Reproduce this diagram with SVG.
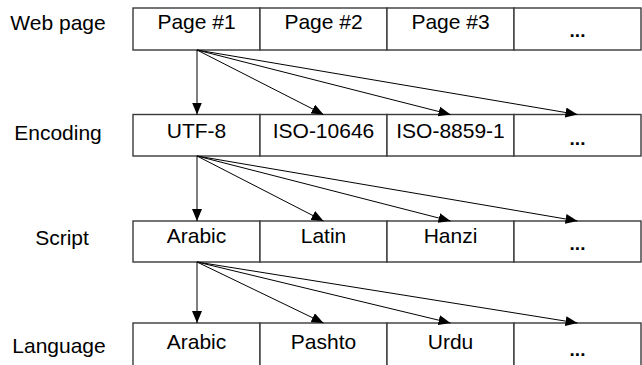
<svg xmlns="http://www.w3.org/2000/svg" width="642" height="365" viewBox="0 0 642 365">
<defs>
<style>
text{font-family:"Liberation Sans",Arial,sans-serif;font-size:21px;fill:#000;text-anchor:middle}
text.dots{font-weight:bold;font-size:19px}
.cell{fill:#fff;stroke:#3a3a3a;stroke-width:1.4}
.arr{stroke:#000;stroke-width:1;fill:none;marker-end:url(#ah)}
</style>
<marker id="ah" viewBox="0 0 12 10" refX="12" refY="5" markerWidth="12" markerHeight="10" markerUnits="userSpaceOnUse" orient="auto">
<path d="M0,0 L12,5 L0,10 Z" fill="#000"/>
</marker>
</defs>
<g id="labels">
<text x="58" y="30">Web page</text>
<text x="58" y="140">Encoding</text>
<text x="62" y="245">Script</text>
<text x="59" y="353">Language</text>
</g>
<g id="row-webpage">
<g id="page1"><rect class="cell" x="133" y="8" width="127" height="42"/><text x="196.5" y="29">Page #1</text></g>
<g id="page2"><rect class="cell" x="260" y="8" width="127" height="42"/><text x="323.5" y="29">Page #2</text></g>
<g id="page3"><rect class="cell" x="387" y="8" width="127" height="42"/><text x="450.5" y="29">Page #3</text></g>
<g id="page-more"><rect class="cell" x="514" y="8" width="127" height="42"/><text class="dots" x="577.5" y="37">...</text></g>
</g>
<g id="row-encoding">
<g id="utf8"><rect class="cell" x="133" y="114.5" width="127" height="41.5"/><text x="196.5" y="138">UTF-8</text></g>
<g id="iso10646"><rect class="cell" x="260" y="114.5" width="127" height="41.5"/><text x="323.5" y="138">ISO-10646</text></g>
<g id="iso8859"><rect class="cell" x="387" y="114.5" width="127" height="41.5"/><text x="450.5" y="138">ISO-8859-1</text></g>
<g id="enc-more"><rect class="cell" x="514" y="114.5" width="127" height="41.5"/><text class="dots" x="577.5" y="145">...</text></g>
</g>
<g id="row-script">
<g id="arabic-script"><rect class="cell" x="133" y="221" width="127" height="41"/><text x="196.5" y="243">Arabic</text></g>
<g id="latin"><rect class="cell" x="260" y="221" width="127" height="41"/><text x="323.5" y="243">Latin</text></g>
<g id="hanzi"><rect class="cell" x="387" y="221" width="127" height="41"/><text x="450.5" y="243">Hanzi</text></g>
<g id="script-more"><rect class="cell" x="514" y="221" width="127" height="41"/><text class="dots" x="577.5" y="250">...</text></g>
</g>
<g id="row-language">
<g id="arabic-lang"><rect class="cell" x="133" y="323" width="127" height="44"/><text x="196.5" y="349">Arabic</text></g>
<g id="pashto"><rect class="cell" x="260" y="323" width="127" height="44"/><text x="323.5" y="349">Pashto</text></g>
<g id="urdu"><rect class="cell" x="387" y="323" width="127" height="44"/><text x="450.5" y="349">Urdu</text></g>
<g id="lang-more"><rect class="cell" x="514" y="323" width="127" height="44"/><text class="dots" x="577.5" y="356">...</text></g>
</g>
<g id="connectors">
<line class="arr" x1="197" y1="50" x2="197" y2="114.5"/>
<line class="arr" x1="197" y1="50" x2="323.5" y2="114.5"/>
<line class="arr" x1="197" y1="50" x2="450.5" y2="114.5"/>
<line class="arr" x1="197" y1="50" x2="577.5" y2="114.5"/>
<line class="arr" x1="197" y1="156" x2="197" y2="221"/>
<line class="arr" x1="197" y1="156" x2="323.5" y2="221"/>
<line class="arr" x1="197" y1="156" x2="450.5" y2="221"/>
<line class="arr" x1="197" y1="156" x2="577.5" y2="221"/>
<line class="arr" x1="197" y1="262" x2="197" y2="323"/>
<line class="arr" x1="197" y1="262" x2="323.5" y2="323"/>
<line class="arr" x1="197" y1="262" x2="450.5" y2="323"/>
<line class="arr" x1="197" y1="262" x2="577.5" y2="323"/>
</g>
</svg>
